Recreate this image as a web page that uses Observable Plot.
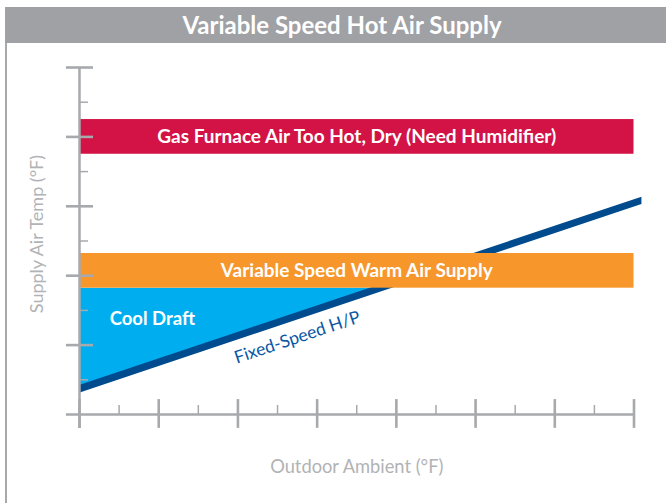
<!DOCTYPE html>
<html>
<head>
<meta charset="utf-8">
<script src="https://cdn.jsdelivr.net/npm/d3@7"></script>
<script src="https://cdn.jsdelivr.net/npm/@observablehq/plot@0.6"></script>
<style>
  html, body { margin: 0; padding: 0; background: #fff; }
  #wrap { position: relative; width: 666px; height: 503px; overflow: hidden; font-family: Lato, "Open Sans", sans-serif; }
  #title { position: absolute; left: 5px; top: 7px; width: 661px; height: 36px; background: #a0a1a5;
           color: #fff; font: bold 24px Lato, sans-serif; line-height: 36px; text-align: center; box-sizing: border-box; padding-left: 13px; }
  #border { position: absolute; left: 5px; top: 40px; width: 2px; height: 463px; background: #a7a9ac; }
  #chart { position: absolute; left: 0; top: 43px; }
</style>
</head>
<body>
<div id="wrap">
  <div id="border"></div>
  <div id="title"></div>
  <div id="chart"></div>
</div>
<script>
// ---- data ----
const titleText = "Variable Speed Hot Air Supply";
const xLabel = "Outdoor Ambient (°F)";
const yLabel = "Supply Air Temp (°F)";

const xMajor = [0, 1, 2, 3, 4, 5, 6, 7];
const xMinor = [0.5, 1.5, 2.5, 3.5, 4.5, 5.5, 6.5];
const yMajor = [1, 2, 3, 4, 5];
const yMinor = [0.5, 1.5, 2.5, 3.5, 4.5];

const bandLabels = ["Gas Furnace Air Too Hot, Dry (Need Humidifier)", "Variable Speed Warm Air Supply"];
const bandLow = [3.75, 1.82];
const bandHigh = [4.25, 2.32];
const bandStart = [0, 0];
const bandEnd = [7, 7];

const hpLabel = "Fixed-Speed H/P";
const hpX = [0, 7.1];
const hpLow = [0.307, 3.026];
const hpHigh = [0.418, 3.131];

const draftLabel = "Cool Draft";
const draftX = [0, 3.8];
const draftLow = [0.36, 1.82];
const draftHigh = [1.82, 1.82];

// ---- tables ----
const bands = bandLabels.map((label, i) => ({label, x1: bandStart[i], x2: bandEnd[i], y1: bandLow[i], y2: bandHigh[i]}));
const hp = hpX.map((x, i) => ({x, y1: hpLow[i], y2: hpHigh[i]}));
const draft = draftX.map((x, i) => ({x, y1: draftLow[i], y2: draftHigh[i]}));

document.getElementById("title").textContent = titleText;

const axisColor = "#a7a9ac";
const bandColors = ["#d31245", "#f7962b"];

const plot = Plot.plot({
  width: 666,
  height: 460,
  marginTop: 24,
  marginBottom: 89,
  marginLeft: 79,
  marginRight: 32.5,
  x: {domain: [0, 7], axis: null},
  y: {domain: [0, 5], axis: null},
  style: {fontFamily: "Lato, sans-serif", background: "transparent", overflow: "visible"},
  marks: [
    Plot.areaY(draft, {x: "x", y1: "y1", y2: "y2", fill: "#00aeef"}),
    Plot.areaY(hp, {x: "x", y1: "y1", y2: "y2", fill: "#004b8d"}),
    Plot.rect(bands, {x1: "x1", x2: "x2", y1: "y1", y2: "y2", fill: (d, i) => bandColors[i]}),
    Plot.text(bands, {x: d => (d.x1 + d.x2) / 2, y: d => (d.y1 + d.y2) / 2, text: "label", fill: "#fff", fontWeight: "bold", fontSize: 19}),
    Plot.text([draftLabel], {x: 0.92, y: 1.37, text: d => d, fill: "#fff", fontWeight: "bold", fontSize: 18.5}),
    Plot.text([hpLabel], {x: 2.75, y: 1.11, text: d => d, fill: "#0b57a4", fontSize: 17.5, rotate: -18.6}),
    // axes
    Plot.ruleY([0], {x1: -0.165, x2: 7, stroke: axisColor, strokeWidth: 2.5}),
    Plot.ruleX([0], {y1: -0.2, y2: 5, stroke: axisColor, strokeWidth: 2.5}),
    Plot.ruleX(xMajor, {y1: -0.2, y2: 0.215, stroke: axisColor, strokeWidth: 2.6}),
    Plot.ruleX(xMinor, {y1: 0, y2: 0.13, stroke: axisColor, strokeWidth: 1.5}),
    Plot.ruleY(yMajor, {x1: -0.165, x2: 0.177, stroke: axisColor, strokeWidth: 2.6}),
    Plot.ruleY(yMinor, {x1: 0, x2: 0.114, stroke: axisColor, strokeWidth: 1.5}),
    Plot.text([xLabel], {x: 3.5, y: -0.76, text: d => d, fill: "#b1b3b5", fontSize: 18.3}),
    Plot.text([yLabel], {x: -0.53, y: 2.6, text: d => d, fill: "#b1b3b5", fontSize: 18, rotate: -90})
  ]
});
document.getElementById("chart").appendChild(plot);
</script>
</body>
</html>
